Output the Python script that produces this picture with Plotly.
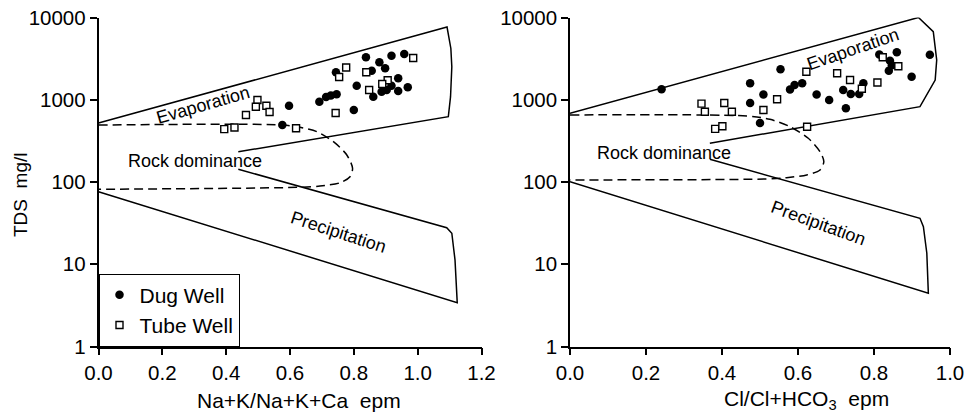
import math
import plotly.graph_objects as go

# ---------------- data ----------------
# Left panel: Na+K/(Na+K+Ca) vs TDS
left_dug_x = [0.838, 0.918, 0.958, 0.880, 0.898, 0.856, 0.744, 0.939, 0.809, 0.918, 0.903,
              0.887, 0.939, 0.969, 0.861, 0.746, 0.728, 0.713, 0.692, 0.800, 0.597, 0.576]
left_dug_tds = [3280, 3435, 3600, 2850, 2410, 2255, 2157, 1824, 1482, 1482, 1315,
                1254, 1277, 1417, 1089, 1164, 1127, 1080, 946, 750, 847, 493]
left_tube_x = [0.986, 0.776, 0.754, 0.839, 0.906, 0.889, 0.848, 0.743, 0.498, 0.493, 0.526,
               0.536, 0.462, 0.426, 0.394, 0.619]
left_tube_tds = [3220, 2466, 1890, 2158, 1723, 1554, 1315, 690, 993, 823, 847,
                 710, 653, 460, 439, 450]

# Right panel: Cl/(Cl+HCO3) vs TDS
right_dug_x = [0.241, 0.474, 0.474, 0.500, 0.509, 0.554, 0.579, 0.591, 0.611, 0.649, 0.682, 0.719,
               0.726, 0.739, 0.761, 0.772, 0.814, 0.860, 0.842, 0.847, 0.839, 0.899, 0.947]
right_dug_tds = [1340, 1585, 913, 521, 1158, 2346, 1333, 1511, 1585, 1158, 993, 1315,
                 787, 1175, 1175, 1585, 3550, 3775, 2985, 2624, 2255, 1905, 3530]
right_tube_x = [0.346, 0.355, 0.406, 0.426, 0.382, 0.401, 0.509, 0.545, 0.622, 0.624, 0.703,
                0.737, 0.768, 0.809, 0.823, 0.864]
right_tube_tds = [896, 716, 913, 716, 443, 476, 750, 1012, 2193, 470, 2098,
                  1738, 1358, 1622, 3281, 2552]

# Gibbs diagram boundaries (left)
left_evap_x = [0.0, 1.092, 1.104, 1.107, 1.103, 1.096, 0.438]
left_evap_tds = [522, 7660, 4200, 2523, 1089, 622, 233]
left_precip_x = [0.438, 1.091, 1.107, 1.117, 1.124, 0.0]
left_precip_tds = [143, 27.8, 23.8, 11.3, 3.41, 76.2]
left_rock_x = [0.0, 0.579, 0.631, 0.684, 0.736, 0.778, 0.796, 0.788, 0.757, 0.694, 0.631, 0.0]
left_rock_tds = [493, 493, 462, 409, 309, 213, 147, 116, 98, 89.3, 86.3, 81.5]

# Gibbs diagram boundaries (right)
right_evap_x = [0.0, 0.917, 0.956, 0.965, 0.961, 0.921, 0.368]
right_evap_tds = [684, 10000, 6714, 3041, 1738, 824, 296]
right_precip_x = [0.368, 0.921, 0.930, 0.939, 0.943, 0.0]
right_precip_tds = [189, 36.2, 28.6, 13.6, 4.44, 101]
right_rock_x = [0.0, 0.465, 0.526, 0.579, 0.627, 0.658, 0.668, 0.658, 0.623, 0.570, 0.518, 0.0]
right_rock_tds = [653, 634, 578, 470, 340, 233, 177, 140, 122, 113, 109, 106]

y_tickvals = [1, 10, 100, 1000, 10000]
y_ticktext = ["1", "10", "100", "1000", "10000"]
left_xticks = [0, 0.2, 0.4, 0.6, 0.8, 1.0, 1.2]
right_xticks = [0, 0.2, 0.4, 0.6, 0.8, 1.0]

FONT = "Liberation Sans, Arial, sans-serif"

fig = go.Figure()

def add_lines(xs, ys, xa, ya, dash=None, spline=False):
    fig.add_trace(go.Scatter(
        x=xs, y=ys, xaxis=xa, yaxis=ya, mode="lines",
        line=dict(color="black", width=1.5, dash=dash,
                  shape="spline" if spline else "linear", smoothing=0.8),
        showlegend=False, hoverinfo="skip", cliponaxis=False))

add_lines(left_evap_x, left_evap_tds, "x", "y")
add_lines(left_precip_x, left_precip_tds, "x", "y")
add_lines(left_rock_x, left_rock_tds, "x", "y", dash="9px,5px", spline=True)
add_lines(right_evap_x, right_evap_tds, "x2", "y2")
add_lines(right_precip_x, right_precip_tds, "x2", "y2")
add_lines(right_rock_x, right_rock_tds, "x2", "y2", dash="9px,5px", spline=True)

dug_marker = dict(symbol="circle", size=8.5, color="black")
tube_marker = dict(symbol="square", size=7, color="white", line=dict(color="black", width=1.4))

fig.add_trace(go.Scatter(x=left_dug_x, y=left_dug_tds, mode="markers", name="Dug Well",
                         marker=dug_marker, xaxis="x", yaxis="y", cliponaxis=False))
fig.add_trace(go.Scatter(x=left_tube_x, y=left_tube_tds, mode="markers", name="Tube Well",
                         marker=tube_marker, xaxis="x", yaxis="y", cliponaxis=False))
fig.add_trace(go.Scatter(x=right_dug_x, y=right_dug_tds, mode="markers", name="Dug Well",
                         marker=dug_marker, xaxis="x2", yaxis="y2", showlegend=False,
                         cliponaxis=False))
fig.add_trace(go.Scatter(x=right_tube_x, y=right_tube_tds, mode="markers", name="Tube Well",
                         marker=tube_marker, xaxis="x2", yaxis="y2", showlegend=False,
                         cliponaxis=False))

W, H = 971, 412
yd = [(H - 346.5) / H, (H - 17.5) / H]

axis_common = dict(showline=True, linecolor="black", linewidth=1.5, ticks="outside",
                   ticklen=7, tickwidth=1.5, tickcolor="black", showgrid=False,
                   zeroline=False, automargin=False,
                   tickfont=dict(family=FONT, size=20.5, color="black"))

fig.update_layout(
    width=W, height=H,
    margin=dict(l=0, r=0, t=0, b=0),
    paper_bgcolor="white", plot_bgcolor="white",
    font=dict(family=FONT, color="black"),
    xaxis=dict(domain=[98.5 / W, 481.5 / W], range=[0, 1.2], tickvals=left_xticks,
               tickformat=".1f", anchor="y", **axis_common),
    yaxis=dict(domain=yd, type="log", range=[0, 4], tickvals=y_tickvals, ticktext=y_ticktext,
               anchor="x", **axis_common),
    xaxis2=dict(domain=[570 / W, 950 / W], range=[0, 1.0], tickvals=right_xticks,
                tickformat=".1f", anchor="y2", **axis_common),
    yaxis2=dict(domain=yd, type="log", range=[0, 4], tickvals=y_tickvals, ticktext=y_ticktext,
                anchor="x2", **axis_common),
    legend=dict(x=98.5 / W, y=(H - 346.5) / H, xanchor="left", yanchor="bottom",
                bordercolor="black", borderwidth=1, bgcolor="white",
                font=dict(family=FONT, size=21, color="black"),
                itemwidth=30, tracegroupgap=0),
    showlegend=True,
)

def label(text, x, y, xref, yref, size=18, angle=0):
    fig.add_annotation(text=text, x=x, y=y, xref=xref, yref=yref, showarrow=False,
                       textangle=angle, font=dict(family=FONT, size=size, color="black"),
                       xanchor="center", yanchor="middle")

# region labels (log axes use log10 for annotation y)
label("Evaporation", 0.327, math.log10(860), "x", "y", angle=-16)
label("Rock dominance", 0.302, math.log10(180), "x", "y")
label("Precipitation", 0.751, math.log10(24.9), "x", "y", angle=18)
label("Evaporation", 0.746, math.log10(4100), "x2", "y2", angle=-19)
label("Rock dominance", 0.247, math.log10(227), "x2", "y2")
label("Precipitation", 0.653, math.log10(32), "x2", "y2", angle=20)

# axis titles
label("Na+K/Na+K+Ca\u00a0\u00a0epm", 299 / W, (H - 400) / H, "paper", "paper", size=21)
label("Cl/Cl+HCO<sub>3</sub>\u00a0\u00a0epm", 806 / W, (H - 400) / H, "paper", "paper", size=21)
label("TDS\u00a0\u00a0mg/l", 20 / W, (H - 195) / H, "paper", "paper", size=19, angle=-90)

fig.write_html("out.html", config={"displayModeBar": False},
               post_script="document.body.style.margin='0';document.body.style.overflow='hidden';")
